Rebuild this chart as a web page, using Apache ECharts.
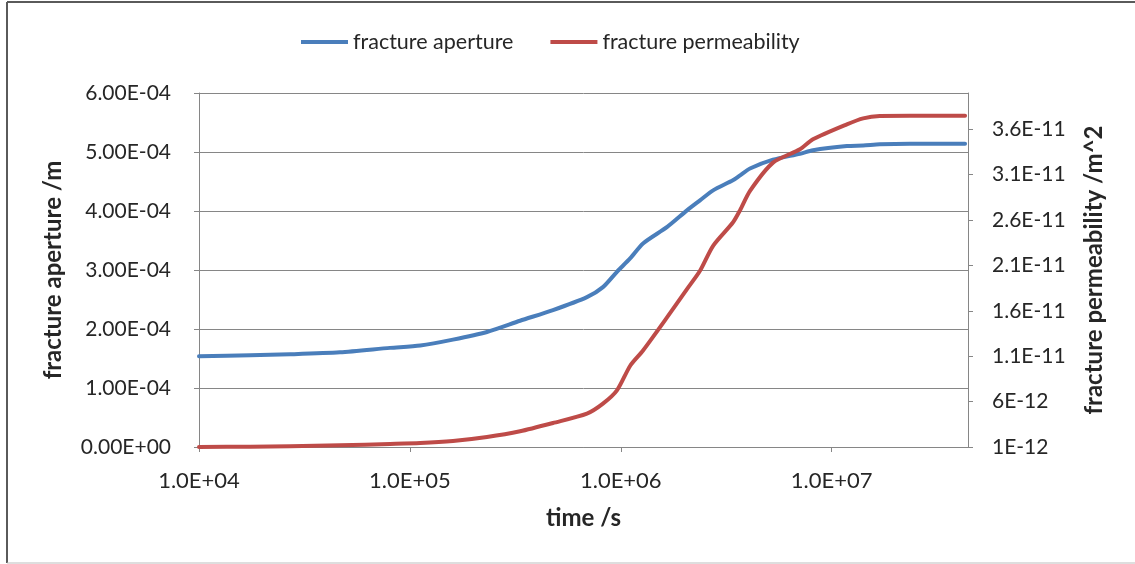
<!DOCTYPE html>
<html>
<head>
<meta charset="utf-8">
<script src="https://cdn.jsdelivr.net/npm/echarts@6/dist/echarts.min.js"></script>
<style>
  html, body { margin: 0; padding: 0; background: #ffffff; }
  #chart { width: 1135px; height: 564px; }
</style>
</head>
<body>
<div id="chart"></div>
<script>
// Time steps of the simulation (s)
const time = [1.0e4, 1.75e4, 2.7e4, 4.66e4, 8.05e4, 1.12e5, 1.60e5, 2.32e5, 3.33e5, 4.77e5,
  6.91e5, 8.23e5, 9.59e5, 1.11e6, 1.275e6, 1.66e6, 2.06e6, 2.375e6, 2.74e6, 3.40e6,
  3.68e6, 4.10e6, 5.27e6, 7.07e6, 8.15e6, 1.18e7, 1.41e7, 1.69e7, 2.35e7, 4.29e7];

// Fracture aperture (m)
const aperture = [1.537e-4, 1.554e-4, 1.571e-4, 1.605e-4, 1.68e-4, 1.72e-4, 1.82e-4, 1.95e-4, 2.14e-4, 2.32e-4,
  2.54e-4, 2.71e-4, 2.97e-4, 3.20e-4, 3.45e-4, 3.73e-4, 4.01e-4, 4.18e-4, 4.35e-4, 4.52e-4,
  4.605e-4, 4.72e-4, 4.87e-4, 4.97e-4, 5.03e-4, 5.10e-4, 5.11e-4, 5.13e-4, 5.14e-4, 5.14e-4];

// Fracture permeability (m^2)
const permeability = [1.00e-12, 1.03e-12, 1.08e-12, 1.19e-12, 1.33e-12, 1.43e-12, 1.66e-12, 2.10e-12, 2.73e-12, 3.64e-12,
  4.67e-12, 5.77e-12, 7.23e-12, 9.98e-12, 1.163e-11, 1.53e-11, 1.84e-11, 2.042e-11, 2.317e-11, 2.573e-11,
  2.71e-11, 2.922e-11, 3.233e-11, 3.380e-11, 3.490e-11, 3.655e-11, 3.721e-11, 3.746e-11, 3.748e-11, 3.748e-11];

// Axis ticks
const timeTicks = [1e4, 1e5, 1e6, 1e7];
const permTicks = [1e-12, 6e-12, 1.1e-11, 1.6e-11, 2.1e-11, 2.6e-11, 3.1e-11, 3.6e-11];

const FONT = 'Lato';
const TEXT = '#262626';
const AXIS = '#868686';

function pad2Exp(s) {
  // "1.0e+4" -> "1.0E+04"
  return s.replace(/e([+-])(\d+)$/, (m, sign, d) => 'E' + sign + (d.length < 2 ? '0' + d : d));
}
const fmtTime = v => pad2Exp(v.toExponential(1));
const fmtAperture = v => pad2Exp(v.toExponential(2));
const fmtPerm = v => pad2Exp(Number(v.toPrecision(2)).toExponential());

const chart = echarts.init(document.getElementById('chart'), null, { renderer: 'canvas' });

chart.setOption({
  backgroundColor: '#ffffff',
  animation: false,
  textStyle: { fontFamily: FONT, color: TEXT },
  graphic: [
    { type: 'line', shape: { x1: 7, y1: 2, x2: 7, y2: 563 }, style: { stroke: '#5a5a5a', lineWidth: 2 } },
    { type: 'line', shape: { x1: 7, y1: 2, x2: 1135, y2: 2 }, style: { stroke: '#5a5a5a', lineWidth: 2 } },
    { type: 'line', shape: { x1: 7, y1: 563, x2: 1135, y2: 563 }, style: { stroke: '#bdbdbd', lineWidth: 1 } }
  ],
  legend: {
    left: 296,
    top: 26,
    itemWidth: 47,
    itemHeight: 4,
    itemGap: 37,
    icon: 'rect',
    textStyle: { fontFamily: FONT, fontSize: 21.5, color: TEXT },
    data: ['fracture aperture', 'fracture permeability']
  },
  grid: { left: 199, right: 167, top: 93, bottom: 117, containLabel: false },
  xAxis: {
    type: 'log',
    logBase: 10,
    min: 1e4,
    max: 4.43e7,
    name: 'time /s',
    nameLocation: 'middle',
    nameGap: 59,
    nameTextStyle: { fontFamily: FONT, fontSize: 24, fontWeight: 'bold', color: TEXT },
    axisLine: { show: true, lineStyle: { color: AXIS, width: 1 } },
    axisTick: { show: true, length: 5, lineStyle: { color: AXIS }, customValues: timeTicks },
    axisLabel: { fontFamily: FONT, fontSize: 22, color: TEXT, margin: 23, formatter: fmtTime, customValues: timeTicks },
    splitLine: { show: false },
    minorTick: { show: false }
  },
  yAxis: [
    {
      type: 'value',
      position: 'left',
      min: 0,
      max: 6e-4,
      interval: 1e-4,
      name: 'fracture aperture /m',
      nameLocation: 'middle',
      nameGap: 134,
      nameTextStyle: { fontFamily: FONT, fontSize: 24, fontWeight: 'bold', color: TEXT },
      axisLine: { show: true, lineStyle: { color: AXIS, width: 1 } },
      axisTick: { show: true, length: 5, lineStyle: { color: AXIS } },
      axisLabel: { fontFamily: FONT, fontSize: 21, color: TEXT, margin: 28, formatter: fmtAperture },
      splitLine: { show: true, lineStyle: { color: AXIS, width: 1 } }
    },
    {
      type: 'value',
      position: 'right',
      min: 1e-12,
      max: 4.0e-11,
      name: 'fracture permeability /m^2',
      nameLocation: 'middle',
      nameGap: 114,
      nameRotate: 90,
      nameTextStyle: { fontFamily: FONT, fontSize: 24, fontWeight: 'bold', color: TEXT },
      axisLine: { show: true, lineStyle: { color: AXIS, width: 1 } },
      axisTick: { show: true, length: 5, lineStyle: { color: AXIS }, customValues: permTicks },
      axisLabel: { fontFamily: FONT, fontSize: 21, color: TEXT, margin: 24, formatter: fmtPerm, customValues: permTicks },
      splitLine: { show: false }
    }
  ],
  series: [
    {
      name: 'fracture aperture',
      type: 'line',
      yAxisIndex: 0,
      data: time.map((t, i) => [t, aperture[i]]),
      showSymbol: false,
      smooth: 0.25,
      lineStyle: { color: '#4a7ebb', width: 4, cap: 'round', join: 'round' },
      itemStyle: { color: '#4a7ebb' }
    },
    {
      name: 'fracture permeability',
      type: 'line',
      yAxisIndex: 1,
      data: time.map((t, i) => [t, permeability[i]]),
      showSymbol: false,
      smooth: 0.25,
      lineStyle: { color: '#be4b48', width: 4, cap: 'round', join: 'round' },
      itemStyle: { color: '#be4b48' }
    }
  ]
});
</script>
</body>
</html>
